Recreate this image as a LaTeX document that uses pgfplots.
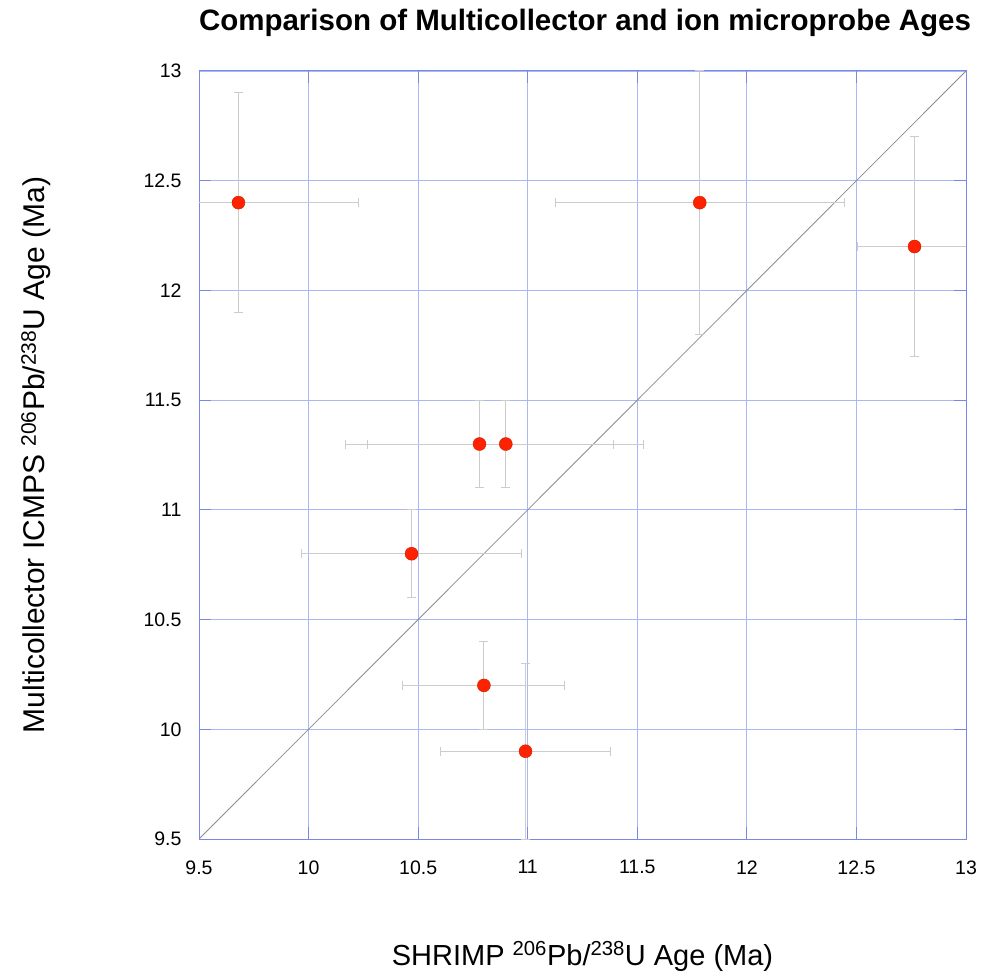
\documentclass[border=0pt]{standalone}
\usepackage{fontspec}
\setmainfont{Liberation Sans}
\usepackage{pgfplots}
\pgfplotsset{compat=1.18}
\definecolor{gridblue}{HTML}{AAB8F4}
\definecolor{frameblue}{HTML}{7888E8}
\definecolor{ptred}{HTML}{FF2200}
\definecolor{ebar}{HTML}{CCCCCC}
\begin{document}
\begin{tikzpicture}
\begin{axis}[
  at={(0pt,0pt)}, anchor=south west,
  scale only axis, width=767pt, height=768pt,
  xmin=9.5, xmax=13, ymin=9.5, ymax=13,
  xtick={9.5,10,...,13}, ytick={9.5,10,...,13},
  grid=major,
  major grid style={draw=gridblue, line width=0.9pt},
  axis line style={draw=frameblue, line width=1pt},
  tick style={draw=frameblue, line width=1pt},
  major tick length=12pt,
  tick align=inside,
  xtick pos=both, ytick pos=both,
  /pgf/number format/assume math mode=true,
  tick label style={font=\fontsize{19.5}{21}\selectfont},
  xticklabel style={yshift=-18pt},
  yticklabel style={xshift=-14pt},
]
\addplot[black!45, line width=0.8pt] coordinates {(9.5,9.5) (13,13)};
\addplot[only marks, mark=*, mark size=6.5pt,
  mark options={fill=ptred, draw=ptred!80!black, line width=0.4pt},
  error bars/.cd, x dir=both, x explicit, y dir=both, y explicit,
  error bar style={draw=ebar, line width=1pt},
  error mark options={draw=ebar, line width=1pt, mark size=4.5pt, rotate=90}]
  coordinates {
  (9.68,12.4) +- (0.55,0.5)
  (11.785,12.4) +- (0.66,0.6)
  (12.765,12.2) +- (0.26,0.5)
  (10.78,11.3) +- (0.61,0.2)
  (10.90,11.3) +- (0.63,0.2)
  (10.47,10.8) +- (0.5,0.2)
  (10.80,10.2) +- (0.37,0.2)
  (10.99,9.9) +- (0.39,0.4)
  };
\end{axis}
\node[anchor=base, font=\bfseries\fontsize{29.5}{32}\selectfont] at (386pt,808pt)
  {Comparison of Multicollector and ion microprobe Ages};
\node[anchor=base, font=\fontsize{29}{32}\selectfont] at (383.5pt,-126pt)
  {SHRIMP \textsuperscript{206}Pb/\textsuperscript{238}U Age (Ma)};
\node[anchor=base, rotate=90, font=\fontsize{30}{32}\selectfont] at (-154pt,384pt)
  {Multicollector ICMPS \textsuperscript{206}Pb/\textsuperscript{238}U Age (Ma)};
\pgfresetboundingbox
\path (-199pt,-136pt) rectangle (782pt,839pt);
\end{tikzpicture}
\end{document}
